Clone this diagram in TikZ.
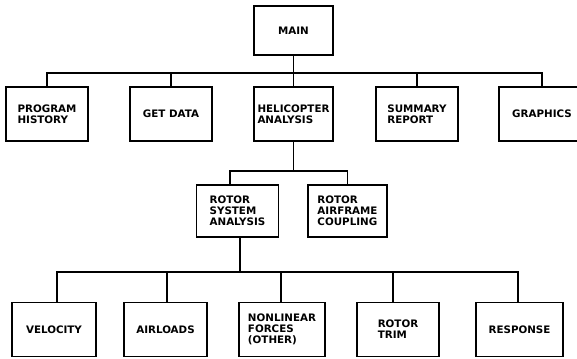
\documentclass[tikz,border=0pt]{standalone}
\usepackage{fontspec}
\setmainfont{DejaVu Sans}
\usepackage{tikz}

\tikzset{
  module/.style={draw,align=left,inner sep=0pt,
    minimum width=24.6mm,minimum height=16.2mm,
    font=\bfseries\fontsize{8.8}{9.4}\selectfont},
  link/.style={line cap=rect}
}

\begin{document}
\begin{tikzpicture}[x=0.3mm,y=-0.3mm,line width=1.6pt,line join=miter]
  \useasboundingbox (0,0) rectangle (577,358);
  % top level
  \node[module,minimum width=23.7mm,minimum height=14.7mm] (main) at (293.5,30.5) {MAIN};
  % second level
  \node[module] (prog)  at (47,114)    {PROGRAM\\HISTORY};
  \node[module] (data)  at (171,114)   {GET DATA};
  \node[module,minimum width=23.7mm] (heli) at (293.5,114) {HELICOPTER\\ANALYSIS};
  \node[module] (sum)   at (417,114)   {SUMMARY\\REPORT};
  \node[module,minimum width=25.8mm] (graph) at (542,114) {GRAPHICS};
  % rotor level
  \node[module,minimum height=15.6mm] (rsys) at (237.5,211) {ROTOR\\SYSTEM\\ANALYSIS};
  \node[module,minimum width=23.7mm,minimum height=15.6mm] (rair) at (347.5,211) {ROTOR\\AIRFRAME\\COUPLING};
  % bottom level
  \node[module,minimum width=25.2mm] (vel)  at (54,329.5)    {VELOCITY};
  \node[module,minimum width=24.9mm] (air)  at (165.5,329.5) {AIRLOADS};
  \node[module,minimum width=25.8mm] (nonl) at (282,329.5)   {NONLINEAR\\FORCES\\(OTHER)};
  \node[module] (trim) at (398,329.5) {ROTOR\\TRIM};
  \node[module,minimum width=26.1mm] (resp) at (519.5,329.5) {RESPONSE};

  \coordinate (busA) at (293.5,73);
  \coordinate (busB) at (293.5,171);
  \coordinate (busC) at (240,272);

  \draw[link] (main.south) -- (heli.north);
  \draw[link]
    (prog.north)
    |-
    (busA)
    -|
    (graph.north);
  \foreach \n in {data,sum}
    \draw[link] (\n.north) -- (\n.north |- busA);

  \draw[link] (heli.south) -- (busB);
  \draw[link]
    ([xshift=-2.2mm]rsys.north)
    |-
    (busB)
    -|
    (rair.north);

  \draw[link] ([xshift=0.75mm]rsys.south) -- (busC);
  \draw[link]
    ([xshift=0.9mm]vel.north)
    |-
    (busC)
    -|
    ([xshift=-0.45mm]resp.north);
  \foreach \n/\s in {air/0.45mm,nonl/-0.3mm,trim/-1.5mm}
    \draw[link] ([xshift=\s]\n.north) -- ([xshift=\s]\n.north |- busC);
\end{tikzpicture}
\end{document}
